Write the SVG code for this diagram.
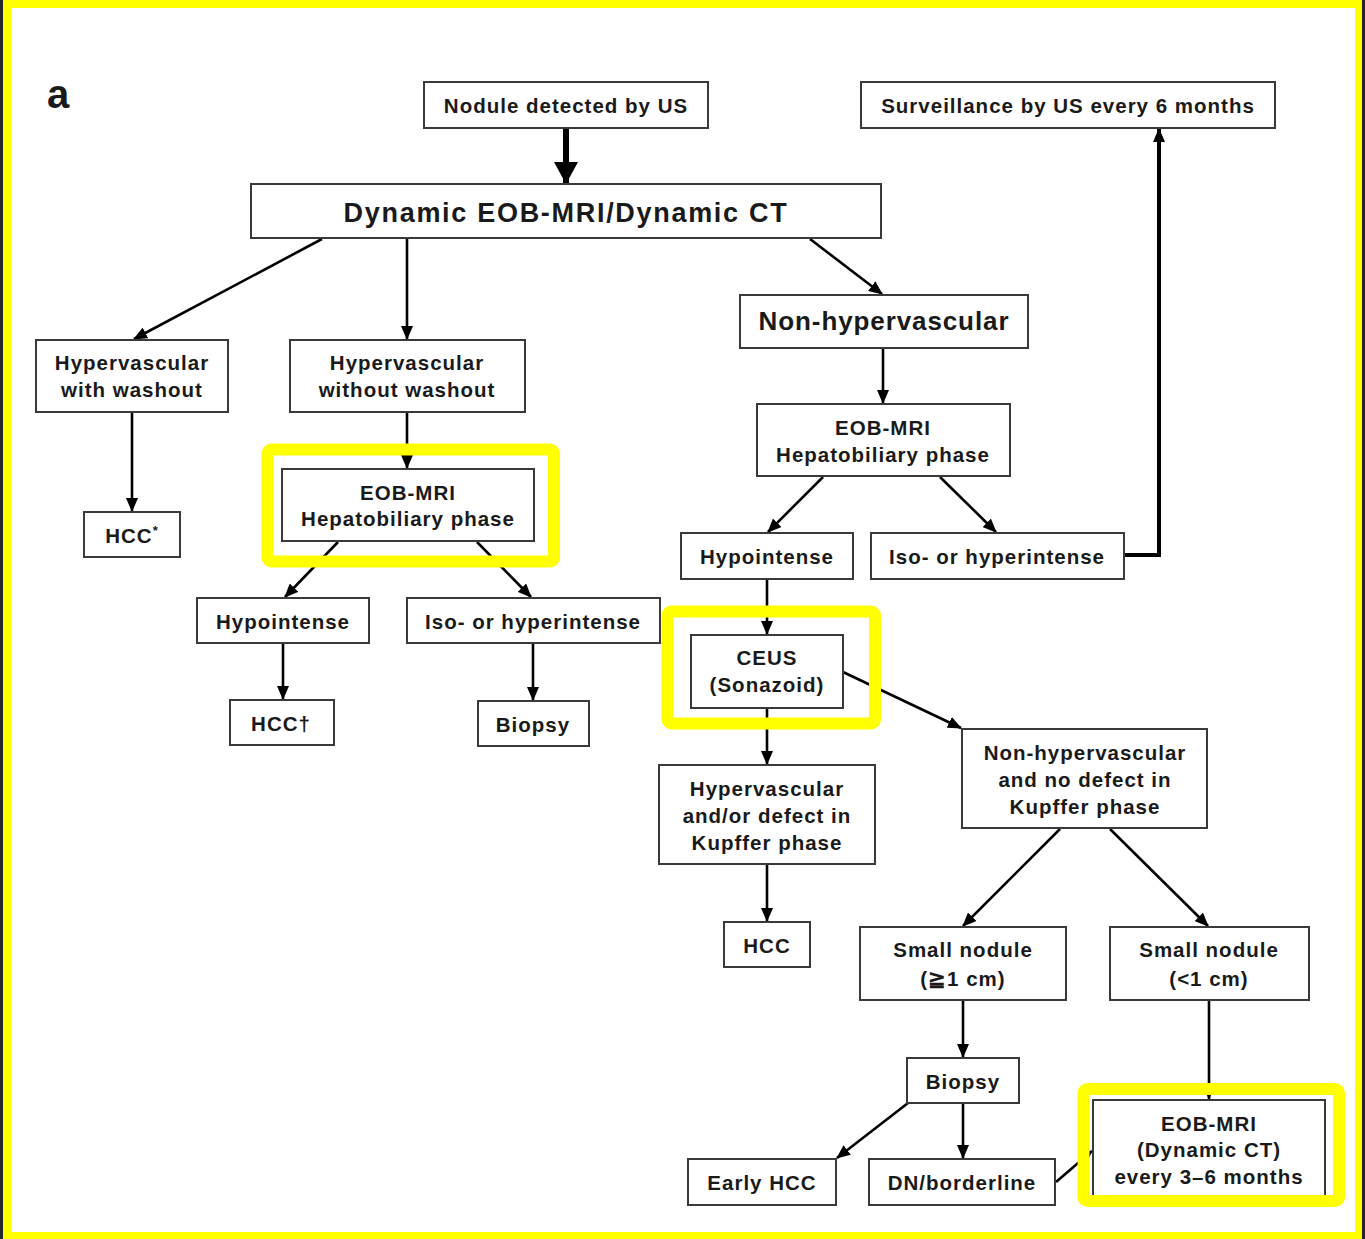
<svg xmlns="http://www.w3.org/2000/svg" width="1365" height="1239" viewBox="0 0 1365 1239">
  <style>
    .b { fill: #fff; stroke: #3a3a3a; stroke-width: 2; }
    .t { font-family: "Liberation Sans", Arial, sans-serif; font-weight: bold; font-size: 20.5px; letter-spacing: 1px; fill: #1a1a1a; text-anchor: middle; }
    .big { font-size: 26px; letter-spacing: 0.9px; }
    .c { fill: none; stroke: #000; stroke-width: 2.6; marker-end: url(#ah); }
    .hl { fill: none; stroke: #ffff00; stroke-width: 12; }
  </style>
  <defs>
    <marker id="ah" markerWidth="14" markerHeight="12" refX="13" refY="6" orient="auto" markerUnits="userSpaceOnUse">
      <path d="M0,0 L14,6 L0,12 z" fill="#000"/>
    </marker>
    <marker id="ahBig" markerWidth="22" markerHeight="24" refX="21" refY="12" orient="auto" markerUnits="userSpaceOnUse">
      <path d="M0,0 L22,12 L0,24 z" fill="#000"/>
    </marker>
  </defs>

  <!-- page frame -->
  <rect x="0" y="0" width="1365" height="1239" fill="#24242c"/>
  <rect x="3" y="0" width="1359" height="1239" fill="#ffff00"/>
  <rect x="11" y="8" width="1344" height="1224" fill="#fff"/>

  <text x="47" y="108" class="t" style="font-size:40px;text-anchor:start;letter-spacing:0">a</text>

  <!-- connectors -->
  <g id="connectors">
    <line x1="566" y1="128" x2="566" y2="183" stroke="#000" stroke-width="6" marker-end="url(#ahBig)"/>
    <line class="c" x1="322" y1="239" x2="134" y2="339"/>
    <line class="c" x1="407" y1="239" x2="407" y2="339"/>
    <line class="c" x1="810" y1="239" x2="882" y2="294"/>
    <line class="c" x1="883" y1="348" x2="883" y2="403"/>
    <line class="c" x1="132" y1="412" x2="132" y2="511"/>
    <line class="c" x1="407" y1="412" x2="407" y2="468"/>
    <line class="c" x1="338" y1="542" x2="285" y2="597"/>
    <line class="c" x1="477" y1="542" x2="531" y2="597"/>
    <line class="c" x1="283" y1="643" x2="283" y2="699"/>
    <line class="c" x1="533" y1="643" x2="533" y2="700"/>
    <line class="c" x1="823" y1="477" x2="768" y2="532"/>
    <line class="c" x1="940" y1="477" x2="996" y2="532"/>
    <polyline points="1124,555 1159,555 1159,129" fill="none" stroke="#000" stroke-width="4" marker-end="url(#ah)"/>
    <line class="c" x1="767" y1="579" x2="767" y2="634"/>
    <line class="c" x1="767" y1="708" x2="767" y2="764"/>
    <line class="c" x1="843" y1="672" x2="961" y2="728"/>
    <line class="c" x1="767" y1="864" x2="767" y2="921"/>
    <line class="c" x1="1060" y1="829" x2="963" y2="926"/>
    <line class="c" x1="1110" y1="829" x2="1208" y2="926"/>
    <line class="c" x1="963" y1="1000" x2="963" y2="1057"/>
    <line class="c" x1="1209" y1="1000" x2="1209" y2="1099"/>
    <line class="c" x1="908" y1="1103" x2="837" y2="1158"/>
    <line class="c" x1="963" y1="1103" x2="963" y2="1158"/>
    <line class="c" x1="1056" y1="1182" x2="1092" y2="1151"/>
  </g>

  <!-- nodes -->
  <g id="n_nodule"><rect class="b" x="424" y="82" width="284" height="46"/><text class="t" x="566" y="113">Nodule detected by US</text></g>
  <g id="n_surveillance"><rect class="b" x="861" y="82" width="414" height="46"/><text class="t" x="1068" y="113">Surveillance by US every 6 months</text></g>
  <g id="n_dynamic"><rect class="b" x="251" y="184" width="630" height="54"/><text class="t big" x="566" y="222" style="font-size:27px;letter-spacing:1.7px">Dynamic EOB-MRI/Dynamic CT</text></g>
  <g id="n_hyper_washout"><rect class="b" x="36" y="340" width="192" height="72"/><text class="t" x="132" y="370">Hypervascular</text><text class="t" x="132" y="397">with washout</text></g>
  <g id="n_hyper_no_washout"><rect class="b" x="290" y="340" width="235" height="72"/><text class="t" x="407" y="370">Hypervascular</text><text class="t" x="407" y="397">without washout</text></g>
  <g id="n_non_hyper"><rect class="b" x="740" y="295" width="288" height="53"/><text class="t big" x="884" y="330">Non-hypervascular</text></g>
  <g id="n_hcc_star"><rect class="b" x="84" y="512" width="96" height="45"/><text class="t" x="132" y="543">HCC<tspan font-size="13" dy="-8">*</tspan></text></g>
  <g id="n_eob_left"><rect class="b" x="282" y="469" width="252" height="72"/><text class="t" x="408" y="500">EOB-MRI</text><text class="t" x="408" y="526">Hepatobiliary phase</text></g>
  <g id="n_eob_right"><rect class="b" x="757" y="404" width="253" height="72"/><text class="t" x="883" y="435">EOB-MRI</text><text class="t" x="883" y="462">Hepatobiliary phase</text></g>
  <g id="n_hypo_left"><rect class="b" x="197" y="598" width="172" height="45"/><text class="t" x="283" y="629">Hypointense</text></g>
  <g id="n_iso_left"><rect class="b" x="407" y="598" width="253" height="45"/><text class="t" x="533" y="629">Iso- or hyperintense</text></g>
  <g id="n_hypo_right"><rect class="b" x="681" y="533" width="172" height="46"/><text class="t" x="767" y="564">Hypointense</text></g>
  <g id="n_iso_right"><rect class="b" x="871" y="533" width="253" height="46"/><text class="t" x="997" y="564">Iso- or hyperintense</text></g>
  <g id="n_hcc_dagger"><rect class="b" x="230" y="700" width="104" height="45"/><text class="t" x="281" y="731">HCC†</text></g>
  <g id="n_biopsy_left"><rect class="b" x="478" y="701" width="111" height="45"/><text class="t" x="533" y="732">Biopsy</text></g>
  <g id="n_ceus"><rect class="b" x="691" y="635" width="152" height="73"/><text class="t" x="767" y="665">CEUS</text><text class="t" x="767" y="692">(Sonazoid)</text></g>
  <g id="n_hyper_kupffer"><rect class="b" x="659" y="765" width="216" height="99"/><text class="t" x="767" y="796">Hypervascular</text><text class="t" x="767" y="823">and/or defect in</text><text class="t" x="767" y="850">Kupffer phase</text></g>
  <g id="n_non_hyper_kupffer"><rect class="b" x="962" y="729" width="245" height="99"/><text class="t" x="1085" y="760">Non-hypervascular</text><text class="t" x="1085" y="787">and no defect in</text><text class="t" x="1085" y="814">Kupffer phase</text></g>
  <g id="n_hcc"><rect class="b" x="724" y="922" width="86" height="45"/><text class="t" x="767" y="953">HCC</text></g>
  <g id="n_small_ge1"><rect class="b" x="860" y="927" width="206" height="73"/><text class="t" x="963" y="957">Small nodule</text><text class="t" x="963" y="986">(≧1 cm)</text></g>
  <g id="n_small_lt1"><rect class="b" x="1110" y="927" width="199" height="73"/><text class="t" x="1209" y="957">Small nodule</text><text class="t" x="1209" y="986">(&lt;1 cm)</text></g>
  <g id="n_biopsy_bottom"><rect class="b" x="907" y="1058" width="112" height="45"/><text class="t" x="963" y="1089">Biopsy</text></g>
  <g id="n_early_hcc"><rect class="b" x="688" y="1159" width="148" height="46"/><text class="t" x="762" y="1190">Early HCC</text></g>
  <g id="n_dn"><rect class="b" x="869" y="1159" width="186" height="46"/><text class="t" x="962" y="1190">DN/borderline</text></g>
  <g id="n_followup"><rect class="b" x="1093" y="1100" width="232" height="103"/><text class="t" x="1209" y="1131">EOB-MRI</text><text class="t" x="1209" y="1157">(Dynamic CT)</text><text class="t" x="1209" y="1184">every 3–6 months</text></g>

  <!-- highlight frames -->
  <g id="highlights">
    <rect class="hl" x="267.5" y="449.5" width="286.5" height="112" rx="4"/>
    <rect class="hl" x="667.5" y="611.5" width="207.5" height="112" rx="4" stroke-width="11"/>
    <rect class="hl" x="1083.5" y="1089" width="255.5" height="112" rx="4"/>
  </g>
</svg>
